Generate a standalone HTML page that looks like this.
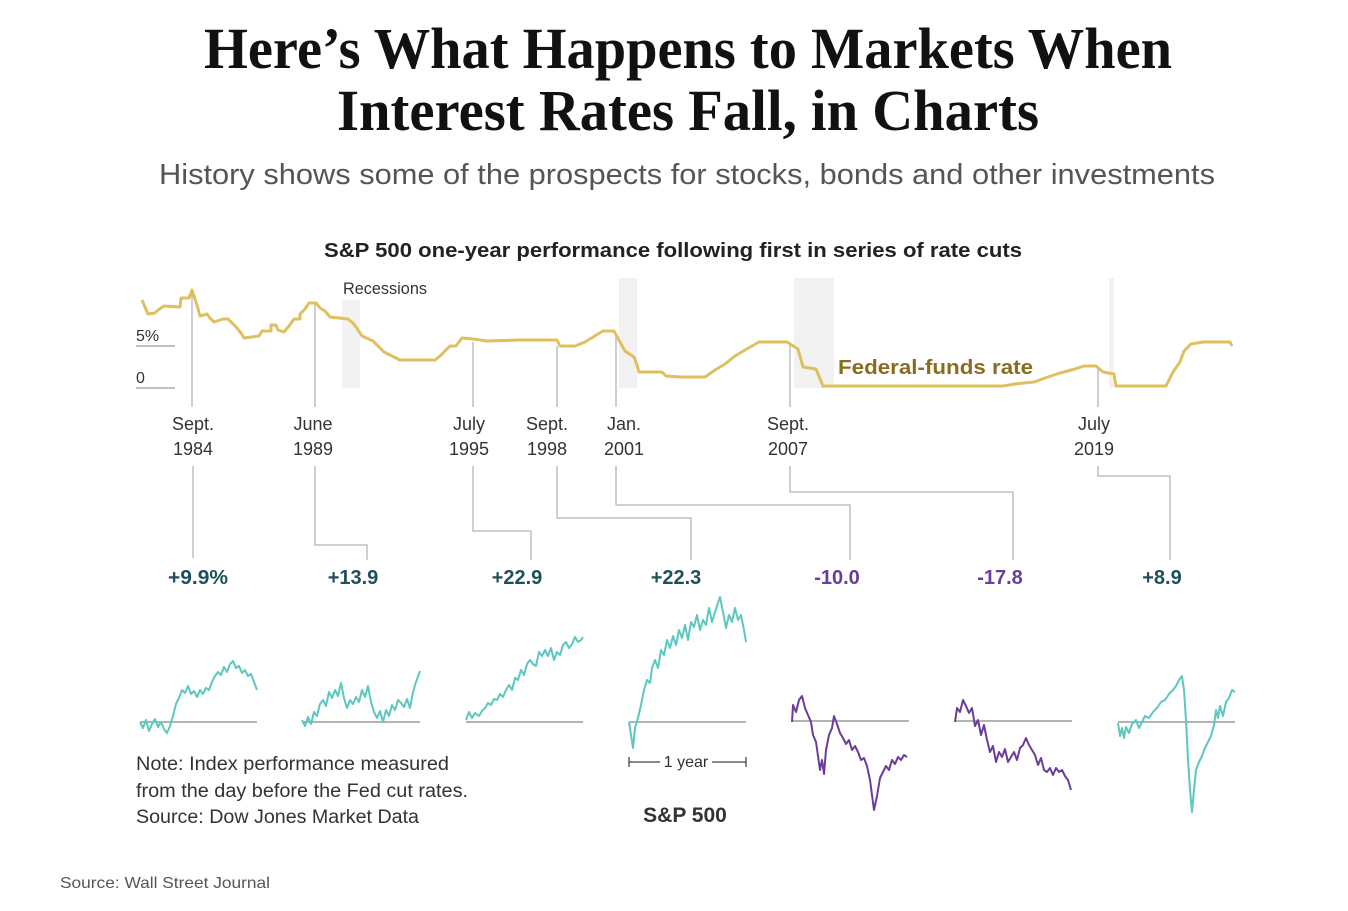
<!DOCTYPE html>
<html><head><meta charset="utf-8"><style>
html,body{margin:0;padding:0;background:#fff;}
svg{display:block;}
.s{font-family:"Liberation Sans",sans-serif;}
</style></head><body>
<svg width="1348" height="911" viewBox="0 0 1348 911" xmlns="http://www.w3.org/2000/svg">
<text x="688" y="68" text-anchor="middle" font-family="Liberation Serif,serif" font-weight="bold" font-size="58" textLength="968" lengthAdjust="spacingAndGlyphs" fill="#111">Here’s What Happens to Markets When</text>
<text x="688" y="130" text-anchor="middle" font-family="Liberation Serif,serif" font-weight="bold" font-size="58" textLength="702" lengthAdjust="spacingAndGlyphs" fill="#111">Interest Rates Fall, in Charts</text>
<text class="s" x="687" y="184" text-anchor="middle" font-size="29" textLength="1056" lengthAdjust="spacingAndGlyphs" fill="#555">History shows some of the prospects for stocks, bonds and other investments</text>
<text class="s" x="673" y="257" text-anchor="middle" font-size="20" font-weight="bold" textLength="698" lengthAdjust="spacingAndGlyphs" fill="#222">S&amp;P 500 one-year performance following first in series of rate cuts</text>

<g fill="#f2f2f2">
<rect x="342" y="300" width="18" height="88"/>
<rect x="619" y="278" width="18" height="110"/>
<rect x="794" y="278" width="40" height="110"/>
<rect x="1109" y="278" width="5" height="110"/>
</g>
<text class="s" x="343" y="294" font-size="17" textLength="84" lengthAdjust="spacingAndGlyphs" fill="#333">Recessions</text>
<g stroke="#999" stroke-width="1.2">
<line x1="136" y1="346" x2="175" y2="346"/><line x1="136" y1="388" x2="175" y2="388"/>
</g>
<text class="s" x="136" y="341" font-size="16" fill="#333">5%</text>
<text class="s" x="136" y="383" font-size="16" fill="#333">0</text>

<g stroke="#b5b5b5" stroke-width="1.3" fill="none">
<line x1="192" y1="291" x2="192" y2="407"/>
<line x1="315" y1="304" x2="315" y2="407"/>
<line x1="473" y1="342" x2="473" y2="407"/>
<line x1="557" y1="346" x2="557" y2="407"/>
<line x1="616" y1="336" x2="616" y2="407"/>
<line x1="790" y1="342" x2="790" y2="407"/>
<line x1="1098" y1="366" x2="1098" y2="407"/>
<polyline points="193,466 193,558"/>
<polyline points="315,466 315,545 367,545 367,560"/>
<polyline points="473,466 473,531 531,531 531,560"/>
<polyline points="557,466 557,518 691,518 691,560"/>
<polyline points="616,466 616,505 850,505 850,560"/>
<polyline points="790,466 790,492 1013,492 1013,560"/>
<polyline points="1098,466 1098,476 1170,476 1170,560"/>
</g>

<polyline fill="none" stroke="#e0c05e" stroke-width="3" stroke-linejoin="round" points="142,300 148,314 155,313 158,310 164,306 180,307 181,298 189,298 192,290 197,305 200,316 207,314 210,318 214,322 223,319 228,319 232,323 236,327 241,333 244,338 259,336 262,331 271,331 271,325 276,325 278,330 284,332 289,326 294,319 300,319 300,314 305,309 309,303 316,303 320,308 325,311 330,317 348,319 353,323 358,330 362,336 373,341 378,346 384,352 392,356 400,360 435,360 440,356 444,352 450,346 456,346 462,338 473,339 487,341 519,340 557,340 560,346 575,346 585,342 598,334 603,331 614,331 620,342 625,351 634,357 637,365 639,372 662,372 666,376 680,377 705,377 715,370 725,364 735,356 745,350 759,342 787,342 798,349 803,367 816,369 823,386 1003,386 1015,384 1034,382 1045,378 1060,373 1075,369 1084,366 1096,366 1103,372 1114,374 1116,386 1166,386 1173,372 1180,362 1184,351 1191,344 1203,342 1230,342 1232,346"/>
<text class="s" x="838" y="374" font-size="20" font-weight="bold" textLength="195" lengthAdjust="spacingAndGlyphs" fill="#8a6d1c">Federal-funds rate</text>

<g class="s" font-size="18" fill="#333" text-anchor="middle">
<text x="193" y="430">Sept.</text><text x="193" y="455">1984</text>
<text x="313" y="430">June</text><text x="313" y="455">1989</text>
<text x="469" y="430">July</text><text x="469" y="455">1995</text>
<text x="547" y="430">Sept.</text><text x="547" y="455">1998</text>
<text x="624" y="430">Jan.</text><text x="624" y="455">2001</text>
<text x="788" y="430">Sept.</text><text x="788" y="455">2007</text>
<text x="1094" y="430">July</text><text x="1094" y="455">2019</text>
</g>
<g class="s" font-size="20" font-weight="bold" text-anchor="middle">
<text x="198" y="584" fill="#1e4f5c" textLength="60" lengthAdjust="spacingAndGlyphs">+9.9%</text>
<text x="353" y="584" fill="#1e4f5c">+13.9</text>
<text x="517" y="584" fill="#1e4f5c">+22.9</text>
<text x="676" y="584" fill="#1e4f5c">+22.3</text>
<text x="837" y="584" fill="#6a3d9a">-10.0</text>
<text x="1000" y="584" fill="#6a3d9a">-17.8</text>
<text x="1162" y="584" fill="#1e4f5c">+8.9</text>
</g>

<g stroke="#9a9a9a" stroke-width="1.5">
<line x1="140" y1="722" x2="257" y2="722"/>
<line x1="302" y1="722" x2="420" y2="722"/>
<line x1="466" y1="722" x2="583" y2="722"/>
<line x1="629" y1="722" x2="746" y2="722"/>
<line x1="792" y1="721" x2="909" y2="721"/>
<line x1="955" y1="721" x2="1072" y2="721"/>
<line x1="1118" y1="722" x2="1235" y2="722"/>
</g>
<g fill="none" stroke-width="2" stroke-linejoin="round">
<polyline stroke="#5cc8c0" points="140,722 143,728 146,720 149,731 152,724 155,719 158,727 161,722 164,729 167,733 170,726 173,716 176,704 179,698 182,690 185,693 188,686 191,694 194,691 197,697 200,690 203,694 206,688 209,690 212,682 215,676 218,672 221,675 224,667 227,672 230,664 233,661 236,668 239,666 242,673 245,670 248,676 251,674 254,682 257,690"/>
<polyline stroke="#5cc8c0" points="302,720 305,726 308,717 311,724 314,712 317,716 320,704 323,700 326,706 329,692 332,698 335,690 338,696 341,683 344,698 347,708 350,700 353,704 356,697 359,702 362,690 365,697 368,686 371,702 374,712 377,718 380,711 383,722 386,710 389,716 392,705 395,710 398,700 401,703 404,707 407,699 410,708 413,692 416,682 420,671"/>
<polyline stroke="#5cc8c0" points="466,720 469,712 472,718 475,713 479,716 482,711 485,708 488,703 491,705 494,699 497,700 500,694 503,697 506,690 509,685 512,690 515,678 518,680 521,670 524,675 527,664 530,660 533,664 536,666 539,652 542,656 545,650 548,656 551,648 554,660 557,652 560,655 563,645 566,642 569,648 572,644 575,637 578,642 581,640 583,637"/>
<polyline stroke="#5cc8c0" points="629,722 631,735 633,748 635,728 638,718 641,705 644,690 647,680 650,683 652,668 655,660 658,668 661,650 664,655 667,640 670,648 673,636 676,645 679,630 682,638 685,625 688,640 691,622 694,627 697,615 700,630 703,620 706,625 709,608 712,622 715,612 718,603 720,597 723,612 726,628 729,615 732,622 735,608 738,620 741,615 744,630 746,642"/>
<polyline stroke="#6a3d9a" points="792,722 793,705 796,712 799,700 802,696 805,708 808,715 811,722 813,735 816,742 818,756 820,770 822,760 824,774 826,750 829,735 832,728 834,716 837,724 840,733 843,738 846,744 849,740 852,750 855,746 858,752 861,760 864,758 867,766 870,780 872,795 874,810 877,796 880,778 883,772 886,766 889,770 892,760 895,764 898,757 901,760 904,755 907,757"/>
<polyline stroke="#6a3d9a" points="955,722 957,708 960,712 963,700 966,706 969,713 972,708 975,726 978,720 981,735 984,725 987,740 990,752 993,746 996,762 999,752 1002,757 1005,749 1008,762 1011,757 1014,752 1017,760 1020,748 1023,745 1026,738 1029,745 1032,750 1035,755 1038,765 1041,758 1044,770 1047,772 1050,768 1053,775 1056,768 1059,772 1062,770 1065,776 1068,780 1071,790"/>
<polyline stroke="#5cc8c0" points="1118,723 1120,736 1122,728 1124,738 1126,727 1129,733 1132,724 1136,720 1139,728 1142,722 1145,716 1149,718 1153,712 1157,708 1161,702 1165,700 1169,694 1173,690 1176,686 1179,680 1182,676 1184,690 1186,720 1188,760 1190,790 1192,812 1194,790 1196,770 1199,762 1202,756 1205,748 1208,742 1211,736 1214,725 1216,710 1218,718 1220,706 1223,716 1226,702 1229,698 1232,690 1235,692"/>
</g>

<g stroke="#444" stroke-width="1.3">
<line x1="629" y1="762" x2="660" y2="762"/><line x1="712" y1="762" x2="746" y2="762"/>
<line x1="629" y1="757" x2="629" y2="767"/><line x1="746" y1="757" x2="746" y2="767"/>
</g>
<text class="s" x="686" y="767" text-anchor="middle" font-size="16" fill="#333">1 year</text>
<text class="s" x="685" y="822" text-anchor="middle" font-size="21" font-weight="bold" fill="#333">S&amp;P 500</text>

<g class="s" font-size="19" fill="#333">
<text x="136" y="770" textLength="313" lengthAdjust="spacingAndGlyphs">Note: Index performance measured</text>
<text x="136" y="797" textLength="332" lengthAdjust="spacingAndGlyphs">from the day before the Fed cut rates.</text>
<text x="136" y="823" textLength="283" lengthAdjust="spacingAndGlyphs">Source: Dow Jones Market Data</text>
</g>
<text class="s" x="60" y="888" font-size="16" textLength="210" lengthAdjust="spacingAndGlyphs" fill="#555">Source: Wall Street Journal</text>
</svg>
</body></html>
